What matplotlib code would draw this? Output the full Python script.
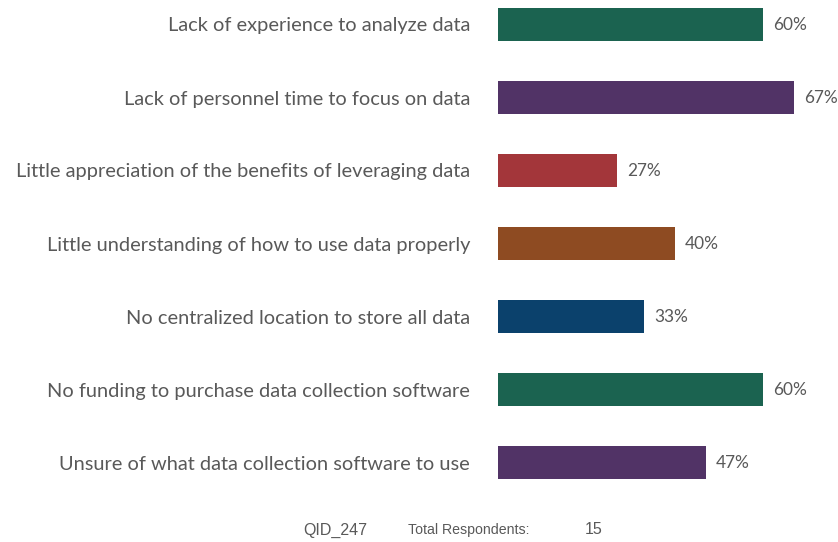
import matplotlib.pyplot as plt

# chart data
categories = [
    "Lack of experience to analyze data",
    "Lack of personnel time to focus on data",
    "Little appreciation of the benefits of leveraging data",
    "Little understanding of how to use data properly",
    "No centralized location to store all data",
    "No funding to purchase data collection software",
    "Unsure of what data collection software to use",
]
values = [60, 67, 27, 40, 33, 60, 47]
colors = ["#1b6350", "#513366", "#a3363a", "#8e4b22", "#0b416c", "#1b6350", "#513366"]
qid = "QID_247"
respondents = 15

W, H = 838, 542
fig = plt.figure(figsize=(W / 100, H / 100), dpi=100)

# axes spans the bar area (bars start at x=498 px)
ax = fig.add_axes([498 / W, 0, 1 - 498 / W, 1])
px_per_pct = 4.42
ax.set_xlim(0, (W - 498) / px_per_pct)
ax.set_ylim((H - 24) / 73, -24 / 73)
ax.axis("off")

ypos = list(range(len(categories)))
ax.barh(ypos, values, height=33 / 73, color=colors)

txt_color = "#595959"
for y, v, lab in zip(ypos, values, categories):
    ax.text(v + 2.3, y + 0.02, f"{v}%", va="center", ha="left", fontsize=12.4,
            color=txt_color, family="Lato")
    fig.text(470 / W, 1 - (26 + 73 * y) / H, lab, va="center", ha="right",
             fontsize=14.4, color=txt_color, family="Lato")

# footer
fy = 1 - 530 / H
fig.text(303 / W, fy, qid, fontsize=11.5, color=txt_color, family="Liberation Sans", va="center")
fig.text(408 / W, fy, "Total Respondents:", fontsize=10.2, color=txt_color,
         family="Liberation Sans", va="center")
fig.text(585 / W, fy, str(respondents), fontsize=11.5, color=txt_color,
         family="Liberation Sans", va="center")

fig.savefig("out.png", dpi=100)
